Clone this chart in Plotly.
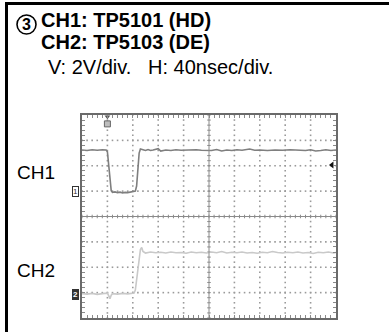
import plotly.graph_objects as go

# ---------------- data (divisions: x 0..10, y -4..4) ----------------
ch1_t = [0.0, 0.2, 0.4, 0.6, 0.8, 0.95, 1.0, 1.05, 1.1, 1.15, 1.2, 1.3, 1.4, 1.5, 1.6, 1.7,
         1.8, 1.9, 2.0, 2.1, 2.15, 2.2, 2.25, 2.3, 2.4, 2.5, 2.6, 2.7, 2.8, 3.0, 3.1, 3.3,
         3.5, 3.7, 3.9, 4.1, 4.3, 4.5, 4.7, 4.9, 5.1, 5.3, 5.5, 5.7, 5.9, 6.1, 6.3, 6.6,
         6.8, 7.0, 7.3, 7.6, 7.9, 8.2, 8.5, 8.8, 9.0, 9.2, 9.4, 9.6, 9.8, 10.0]
ch1_v = [2.62, 2.60, 2.63, 2.61, 2.63, 2.62, 2.55, 2.00, 1.30, 1.02, 0.95, 0.97, 0.94, 0.96, 0.93, 0.95,
         0.94, 0.96, 0.97, 1.00, 1.20, 1.90, 2.50, 2.66, 2.62, 2.60, 2.64, 2.60, 2.62, 2.67, 2.58, 2.62,
         2.60, 2.63, 2.61, 2.62, 2.60, 2.63, 2.61, 2.62, 2.60, 2.64, 2.58, 2.62, 2.60, 2.63, 2.61, 2.66,
         2.61, 2.62, 2.60, 2.62, 2.61, 2.63, 2.61, 2.60, 2.63, 2.58, 2.60, 2.63, 2.60, 2.62]

ch2_t = [0.0, 0.2, 0.4, 0.6, 0.8, 1.0, 1.05, 1.1, 1.15, 1.2, 1.4, 1.6, 1.8, 2.0, 2.05, 2.1, 2.15,
         2.2, 2.25, 2.3, 2.35, 2.4, 2.5, 2.7, 2.9, 3.1, 3.3, 3.5, 3.7, 3.9, 4.1, 4.3, 4.5, 4.7,
         4.9, 5.1, 5.3, 5.5, 5.7, 5.9, 6.1, 6.3, 6.5, 6.7, 6.9, 7.1, 7.3, 7.5, 7.7, 7.9, 8.1,
         8.3, 8.5, 8.7, 8.9, 9.1, 9.3, 9.5, 9.7, 9.9, 10.0]
ch2_v = [-3.04, -3.06, -3.03, -3.07, -3.04, -3.02, -3.12, -3.24, -3.10, -3.04, -3.06, -3.03, -3.05, -3.04, -3.02, -2.90, -2.50,
         -2.00, -1.55, -1.30, -1.22, -1.38, -1.44, -1.40, -1.43, -1.41, -1.44, -1.40, -1.43, -1.42, -1.45, -1.40, -1.43, -1.41,
         -1.44, -1.40, -1.43, -1.38, -1.44, -1.41, -1.43, -1.40, -1.44, -1.42, -1.45, -1.41, -1.43, -1.38, -1.42, -1.44, -1.41,
         -1.43, -1.40, -1.44, -1.42, -1.46, -1.41, -1.43, -1.40, -1.44, -1.42]

title_lines = ["CH1: TP5101 (HD)", "CH2: TP5103 (DE)"]
scale_text = "V: 2V/div.   H: 40nsec/div."
channel_labels = ["CH1", "CH2"]
ch1_ground = 1.0
ch2_ground = -3.05
trig_level = 2.03
trig_pos = 1.0

# ---------------- geometry ----------------
W, H = 389, 332
L, R, T, B = 82, 336, 115, 318


def xp(px):
    return (px - L) / (R - L)


def yp(py):
    return (B - py) / (B - T)


fig = go.Figure()

# dotted graticule
gx, gy = [], []
for k in range(1, 10):
    if k == 5:
        continue
    for j in range(0, 41):
        gx.append(k)
        gy.append(-4 + j * 0.2)
for k in range(-3, 4):
    if k == 0:
        continue
    for j in range(0, 51):
        gx.append(j * 0.2)
        gy.append(k)
fig.add_trace(go.Scatter(x=gx, y=gy, mode="markers",
                         marker=dict(size=1.6, color="#9a9a9a", symbol="square", line=dict(width=0)),
                         hoverinfo="skip", showlegend=False))

# center axes ticks
tx, ty = [], []
for j in range(0, 51):
    tx += [j * 0.2, j * 0.2, None]
    ty += [-0.07, 0.07, None]
for j in range(0, 41):
    tx += [4.93, 5.07, None]
    ty += [-4 + j * 0.2, -4 + j * 0.2, None]
fig.add_trace(go.Scatter(x=tx, y=ty, mode="lines", line=dict(color="#8a8a8a", width=1),
                         hoverinfo="skip", showlegend=False))

# waveforms
fig.add_trace(go.Scatter(x=ch2_t, y=ch2_v, mode="lines", line=dict(color="#c9c9c9", width=1.6),
                         showlegend=False))
fig.add_trace(go.Scatter(x=ch1_t, y=ch1_v, mode="lines", line=dict(color="#7f7f7f", width=1.6),
                         showlegend=False))

# markers: trigger level (right), trigger position (top), ground arrows (left)
fig.add_trace(go.Scatter(x=[9.84], y=[trig_level], mode="markers",
                         marker=dict(symbol="triangle-left", size=6, color="#111"),
                         cliponaxis=False, showlegend=False))
fig.add_trace(go.Scatter(x=[trig_pos], y=[3.93], mode="markers",
                         marker=dict(symbol="triangle-down", size=5, color="#555"),
                         cliponaxis=False, showlegend=False))
fig.add_trace(go.Scatter(x=[trig_pos], y=[3.65], mode="markers",
                         marker=dict(symbol="square", size=6, color="#bdbdbd", line=dict(color="#666", width=1)),
                         cliponaxis=False, showlegend=False))
fig.add_trace(go.Scatter(x=[-0.1], y=[ch1_ground], mode="markers",
                         marker=dict(symbol="triangle-right", size=5, color="#555"),
                         cliponaxis=False, showlegend=False))

fig.update_xaxes(range=[0, 10], showgrid=False, zeroline=False, showticklabels=False,
                 showline=True, linecolor="#6a6a6a", linewidth=2, mirror="ticks",
                 ticks="inside", ticklen=3, tickcolor="#8a8a8a", tickwidth=1, dtick=0.2, tick0=0)
fig.update_yaxes(range=[-4, 4], showgrid=False, zeroline=False, showticklabels=False,
                 showline=True, linecolor="#6a6a6a", linewidth=2, mirror="ticks",
                 ticks="inside", ticklen=3, tickcolor="#8a8a8a", tickwidth=1, dtick=0.2, tick0=0)

shapes = [
    dict(type="line", xref="x", yref="y", x0=0, x1=10, y0=0, y1=0, line=dict(color="#8a8a8a", width=1)),
    dict(type="line", xref="x", yref="y", x0=5, x1=5, y0=-4, y1=4, line=dict(color="#8a8a8a", width=1)),
    # outer panel frame (top and left)
    dict(type="line", xref="paper", yref="paper", x0=xp(5), x1=xp(389), y0=yp(3.5), y1=yp(3.5),
         line=dict(color="#000", width=3)),
    dict(type="line", xref="paper", yref="paper", x0=xp(6.5), x1=xp(6.5), y0=yp(2), y1=yp(332),
         line=dict(color="#000", width=3)),
    # circled number
    dict(type="circle", xref="paper", yref="paper", x0=xp(17), x1=xp(36), y0=yp(15), y1=yp(34),
         line=dict(color="#000", width=1.6)),
]

ann = [
    dict(x=xp(26.5), y=yp(24.5), text="<b>3</b>", font=dict(size=16)),
    dict(x=xp(39), y=yp(20), text="<b>" + title_lines[0] + "</b>", font=dict(size=20), xanchor="left"),
    dict(x=xp(39), y=yp(42), text="<b>" + title_lines[1] + "</b>", font=dict(size=20), xanchor="left"),
    dict(x=xp(46), y=yp(67), text=scale_text, font=dict(size=20), xanchor="left"),
    dict(x=xp(15), y=yp(172), text=channel_labels[0], font=dict(size=19), xanchor="left"),
    dict(x=xp(15), y=yp(270), text=channel_labels[1], font=dict(size=19), xanchor="left"),
    dict(x=xp(75), y=yp(191.5), text="1", font=dict(size=8, color="#333"), bordercolor="#333",
         borderwidth=1, borderpad=0, bgcolor="#fff"),
    dict(x=xp(75), y=yp(294.5), text="<b>2</b>", font=dict(size=8, color="#fff"), bordercolor="#333",
         borderwidth=1, borderpad=0, bgcolor="#333"),
]
for a in ann:
    a.setdefault("xanchor", "center")
    a.update(xref="paper", yref="paper", yanchor="middle", showarrow=False)
    a["font"].setdefault("color", "#000")
    a["font"]["family"] = "Arial, Liberation Sans, sans-serif"

fig.update_layout(width=W, height=H, margin=dict(l=L, r=W - R, t=T, b=H - B),
                  paper_bgcolor="#fff", plot_bgcolor="#fff", shapes=shapes, annotations=ann,
                  showlegend=False)

fig.write_html("out.html", config={"displayModeBar": False},
               post_script="document.body.style.margin='0';document.body.style.padding='0';")
